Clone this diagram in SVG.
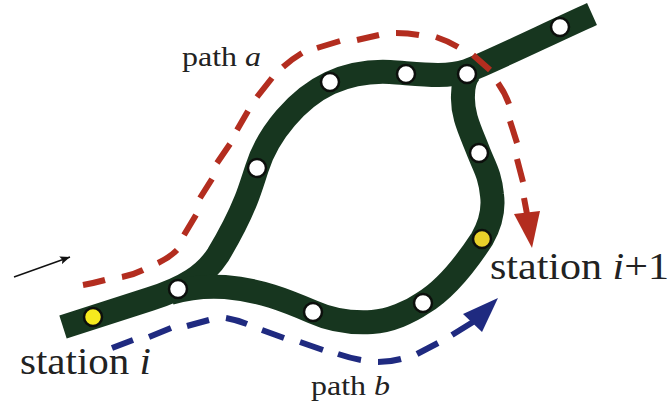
<svg xmlns="http://www.w3.org/2000/svg" width="671" height="404" viewBox="0 0 671 404">
<style>
.track{fill:none;stroke:#17361f;stroke-width:24}
.red{fill:none;stroke:#b32d1f;stroke-width:6}
.blue{fill:none;stroke:#1f2a80;stroke-width:6}
.st{stroke:#0c0f0c;stroke-width:2.5}
.w{fill:#fff}
text{font-family:"Liberation Serif","Times New Roman",serif;fill:#222}
.i{font-style:italic}
.big{font-size:38px}
.small{font-size:28px}
</style>
<defs>
<marker id="ah" viewBox="0 0 10 8" refX="10" refY="4" markerWidth="10" markerHeight="8" markerUnits="userSpaceOnUse" orient="auto"><path d="M0,0L10,4L0,8L2,4Z" fill="#111"/></marker>
</defs>
<rect width="671" height="404" fill="#fff"/>
<g id="connectors">
<path id="track-a" class="track" d="M63,327 L150,299 C185,288 205,275 218,255 C230,235 240,215 246,200 C250,190 253,180 257,168 C268,133 298,98 330,83 C350,74 370,71 390,72 C420,74 445,78 467,71 C490,62 550,33 592,14"/>
<path id="track-b" class="track" d="M170,293 C190,287 210,286 225,287 C260,290 285,300 313,312 C335,322 355,323 372,322 C390,321 410,312 423,303 C445,290 465,265 482,239 C490,225 494,210 492,195 C490,175 485,168 479,153 C470,130 462,115 463,95 C463,85 465,78 470,72"/>
<path id="path-a" class="red" d="M83,285Q94,283 105,280M122,277Q133,275 143,270M158,263Q169,258 177,250M184,235L196,215M200,198L212,179M217,163L230,144M237,130L248,111M257,97L272,78M283,67Q292,59 302,53M317,48L340,41M357,40L379,35M396,33Q408,33 419,35M436,37Q448,41 458,47M473,55L490,70M498,83Q505,93 509,104M510,121L517,143M517,159L523,182M524,198L527,214"/>
<path id="path-a-head" fill="#b32d1f" d="M514,214L540,211L532,248Z"/>
<path id="path-b" class="blue" d="M112,348L133,340M149,337L171,328M187,326L209,320M226,318Q237,320 247,324M262,330L284,338M300,342L323,350M338,354Q350,358 361,360M378,362Q390,362 401,359M417,354L438,343M452,335L473,322"/>
<path id="path-b-head" fill="#1f2a80" d="M463,314L498,298L482,332Z"/>
<path id="direction" fill="none" stroke="#111" stroke-width="1.4" marker-end="url(#ah)" d="M14,277L70,257"/>
</g>
<g id="station-i"><circle class="st" cx="93" cy="317" r="9" fill="#f6ea1e"/></g>
<g id="n1"><circle class="st w" cx="178" cy="289" r="9"/></g>
<g id="n2"><circle class="st w" cx="257" cy="168" r="9"/></g>
<g id="n3"><circle class="st w" cx="330" cy="82" r="9"/></g>
<g id="n4"><circle class="st w" cx="406" cy="74" r="9"/></g>
<g id="n5"><circle class="st w" cx="467" cy="74" r="9"/></g>
<g id="n6"><circle class="st w" cx="560" cy="27" r="9"/></g>
<g id="n7"><circle class="st w" cx="479" cy="153" r="9"/></g>
<g id="n8"><circle class="st w" cx="313" cy="312" r="9"/></g>
<g id="n9"><circle class="st w" cx="423" cy="303" r="9"/></g>
<g id="station-i1"><circle class="st" cx="482" cy="239" r="9" fill="#e8d02a"/></g>
<g id="labels">
<text class="big" x="20" y="374" textLength="131" lengthAdjust="spacingAndGlyphs">station <tspan class="i">i</tspan></text>
<text class="big" x="490" y="279" textLength="179" lengthAdjust="spacingAndGlyphs">station <tspan class="i">i</tspan>+1</text>
<text class="small" x="182" y="66" textLength="79" lengthAdjust="spacingAndGlyphs">path <tspan class="i">a</tspan></text>
<text class="small" x="311" y="395" textLength="79" lengthAdjust="spacingAndGlyphs">path <tspan class="i">b</tspan></text>
</g>
</svg>
